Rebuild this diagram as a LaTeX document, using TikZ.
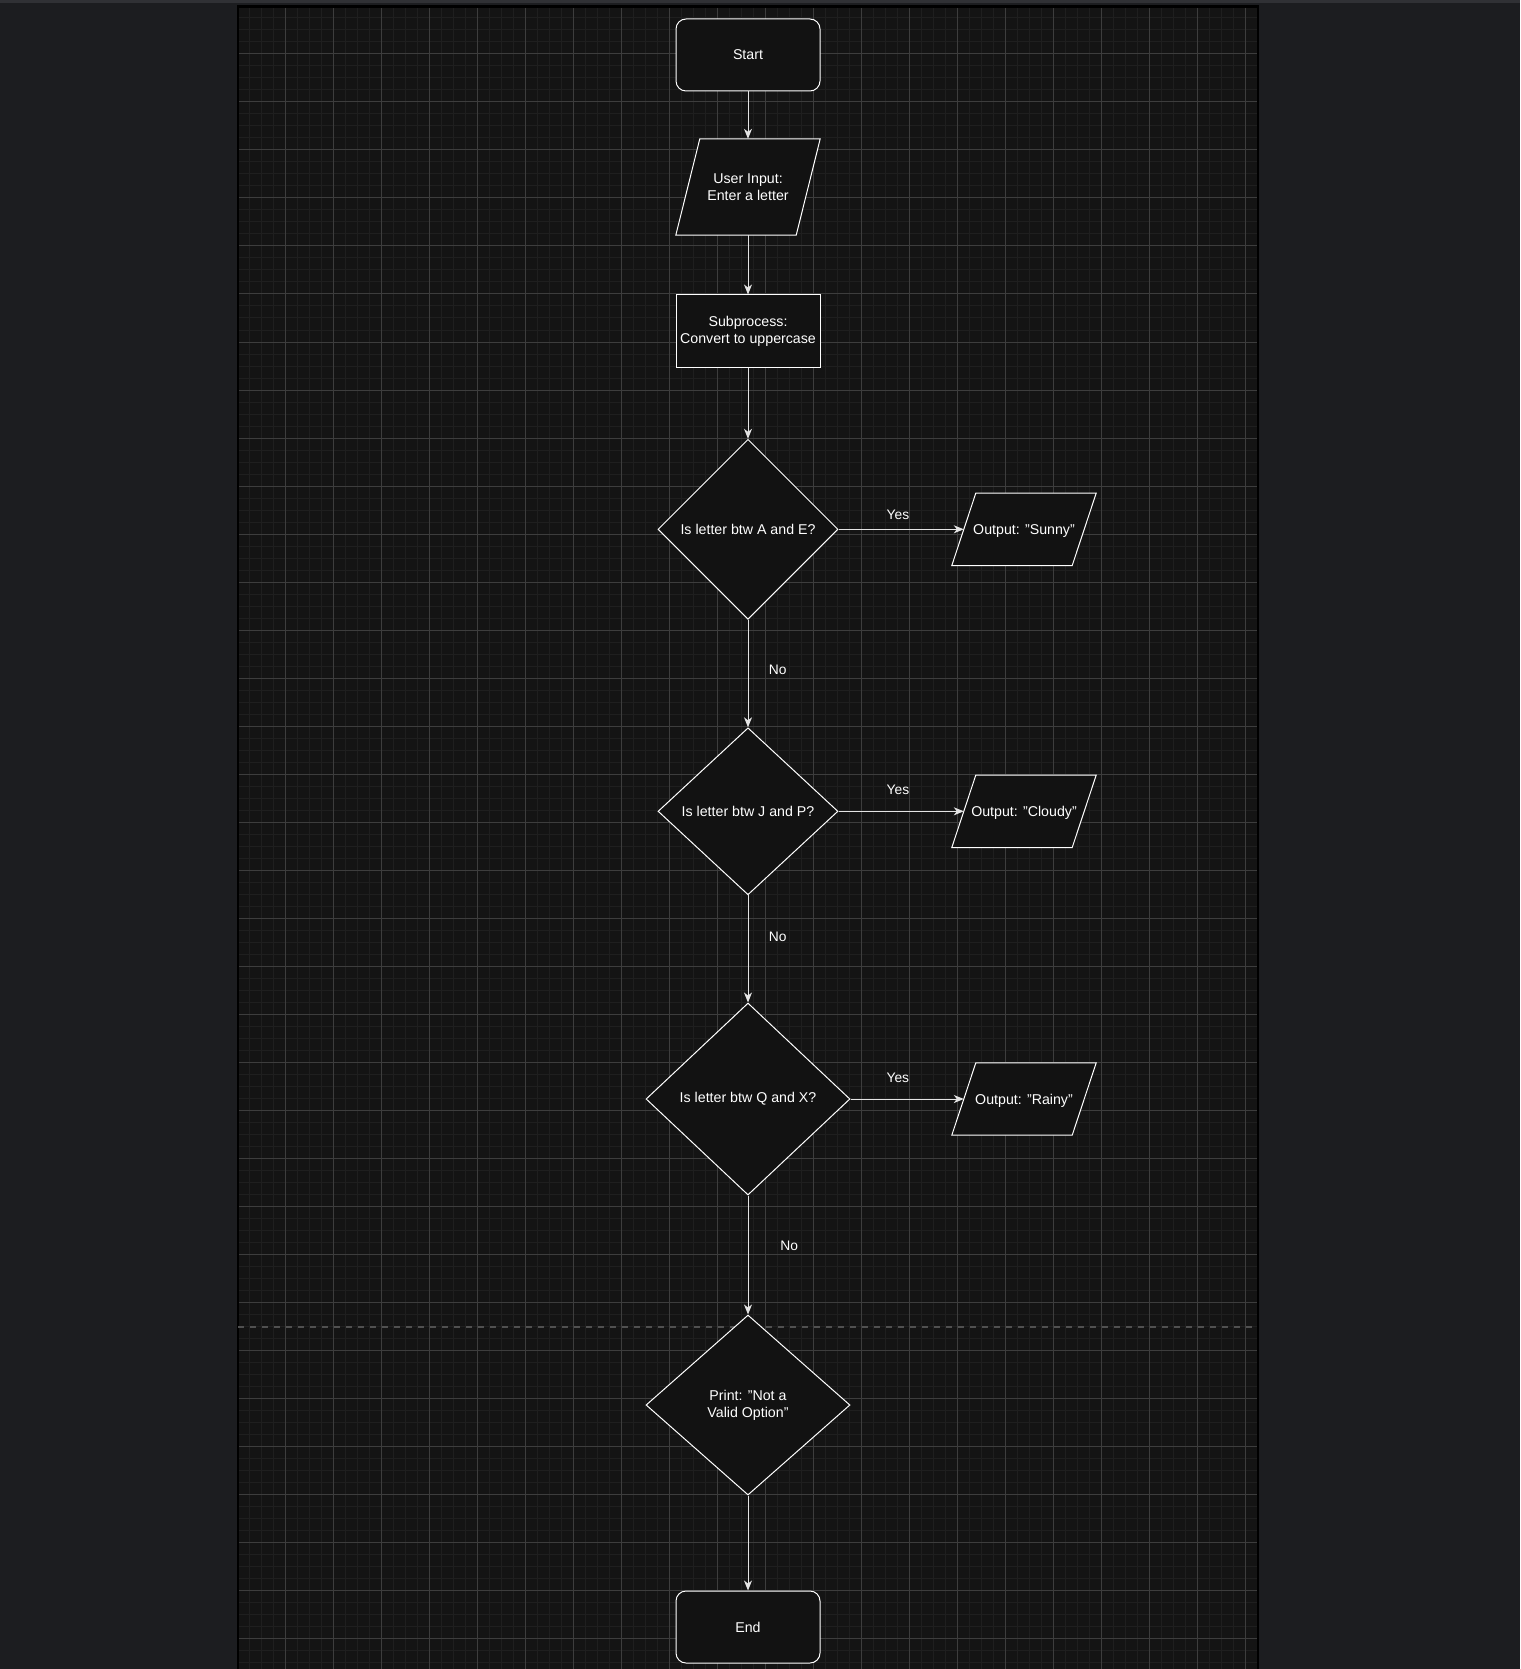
\documentclass[tikz,border=0pt]{standalone}
\usepackage{fontspec}
\setmainfont{Liberation Sans}
\usetikzlibrary{shapes.geometric,arrows.meta}
\definecolor{outerbg}{HTML}{1C1D20}
\definecolor{topbar}{HTML}{303135}
\definecolor{canvasbg}{HTML}{141414}
\definecolor{minorgrid}{HTML}{1F1F1F}
\definecolor{majorgrid}{HTML}{3D3D3D}
\definecolor{nodefill}{HTML}{121212}
\definecolor{dashcol}{HTML}{505050}
\definecolor{flowcol}{HTML}{E4E4E4}
\pgfdeclarelayer{bg}
\pgfdeclarelayer{shapes}
\pgfsetlayers{bg,shapes,main}
\begin{document}
\begin{tikzpicture}[x=1pt,y=-1pt,
  every node/.style={font=\fontsize{14.2}{16.7}\selectfont, text=white},
  base/.style={draw=white, fill=nodefill, line width=1pt, inner sep=0pt, align=center},
  terminal/.style={base, rectangle, rounded corners=10pt, minimum width=144pt, minimum height=72pt},
  process/.style={base, rectangle, minimum width=144pt, minimum height=72pt},
  io/.style={rectangle, inner sep=0pt, align=center, minimum width=120pt},
  outtext/.style={text height=10.2pt, text depth=0pt},
  pgram/.style={draw=white, fill=nodefill, line width=1pt},
  decision/.style={base, diamond},
  flow/.style={draw=flowcol, line width=1pt, -{Stealth[length=10pt,width=8pt,inset=3pt]}},
  lbl/.style={font=\fontsize{13.8}{16}\selectfont, text=white, inner sep=0pt},
  minorline/.style={draw=minorgrid, line width=1pt},
  majorline/.style={draw=majorgrid, line width=1pt},
]
\useasboundingbox (0,0) rectangle (1520,1669);
\begin{pgfonlayer}{bg}
% background
\fill[outerbg] (0,0) rectangle (1520,1669);
\fill[topbar] (0,0) rectangle (1520,3);
\fill[canvasbg] (238,6) rectangle (1257,1669);
% grid
\foreach \i in {0,...,84} \draw[minorline] ({237.3+12*\i},6) -- ({237.3+12*\i},1669);
\foreach \j in {0,...,138} \draw[minorline] (238,{6+12*\j}) -- (1257,{6+12*\j});
\foreach \i in {0,...,21} \draw[majorline] ({237.3+48*\i},6) -- ({237.3+48*\i},1669);
\foreach \j in {0,...,34} \draw[majorline] (238,{6+48*\j}) -- (1257,{6+48*\j});
% canvas border
\draw[black, line width=2.4pt] (237.8,1669) -- (237.8,6.6) -- (1257.8,6.6) -- (1257.8,1669);
% dashed separator
\draw[dashcol, line width=1.6pt, dash pattern=on 6pt off 6pt] (238,1326.7) -- (1257,1326.7);
\end{pgfonlayer}

% nodes
\node[terminal] (start) at (748,55) {Start};
\node[io, minimum height=96pt] (inp) at (748,187) {User Input:\\Enter a letter};
\node[process] (sub) at (748,331) {Subprocess:\\Convert to uppercase};
\node[decision, minimum width=180pt, minimum height=180pt] (d1) at (748,529.3) {Is letter btw A and E?};
\node[io, outtext, minimum height=72pt] (o1) at (1024,529.3) {Output: "Sunny"};
\node[decision, minimum width=180pt, minimum height=167pt] (d2) at (748,811.3) {Is letter btw J and P?};
\node[io, outtext, minimum height=72pt] (o2) at (1024,811.3) {Output: "Cloudy"};
\node[decision, minimum width=204pt, minimum height=192pt] (d3) at (748,1099) {Is letter btw Q and X?};
\node[io, outtext, minimum height=72pt] (o3) at (1024,1099) {Output: "Rainy"};
\node[decision, minimum width=204pt, minimum height=180pt] (d4) at (748,1405) {Print: "Not a\\Valid Option"};
\node[terminal] (end) at (748,1627) {End};

% parallelogram outlines of the input/output nodes
\begin{pgfonlayer}{shapes}
\foreach \n in {inp,o1,o2,o3}
  \draw[pgram] ([xshift=-12pt]\n.south west) -- ([xshift=-12pt]\n.south east)
     -- ([xshift=12pt]\n.north east) -- ([xshift=12pt]\n.north west) -- cycle;
\end{pgfonlayer}

% connectors
\draw[flow] (start) -- (inp);
\draw[flow] (inp) -- (sub);
\draw[flow] (sub) -- (d1);
\draw[flow] (d1) -- node[lbl, pos=0.474, yshift=14.7pt] {Yes} (o1);
\draw[flow] (d1) -- node[lbl, pos=0.466, xshift=29.7pt] {No} (d2);
\draw[flow] (d2) -- node[lbl, pos=0.474, yshift=21pt] {Yes} (o2);
\draw[flow] (d2) -- node[lbl, pos=0.39, xshift=29.7pt] {No} (d3);
\draw[flow] (d3) -- node[lbl, pos=0.418, yshift=21pt] {Yes} (o3);
\draw[flow] (d3) -- node[lbl, pos=0.425, xshift=41.3pt] {No} (d4);
\draw[flow] (d4) -- (end);
\end{tikzpicture}
\end{document}
